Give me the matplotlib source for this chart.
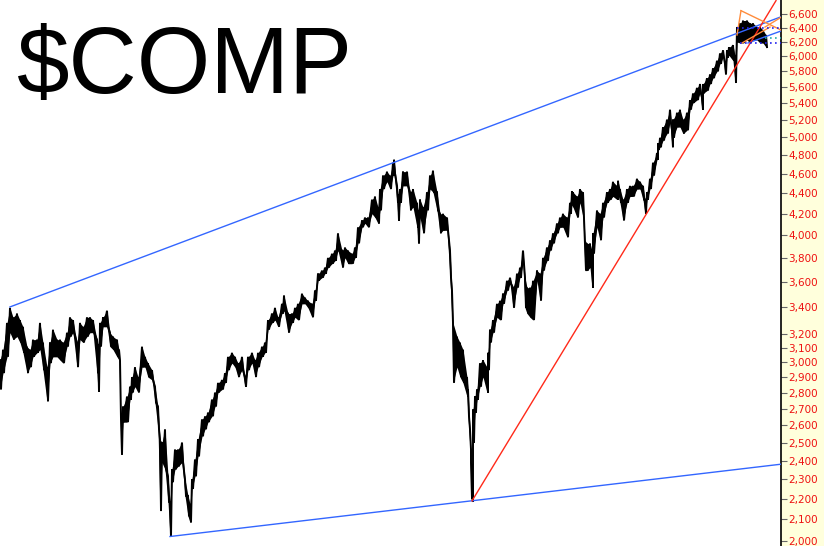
import numpy as np
import matplotlib
matplotlib.use("Agg")
import matplotlib.pyplot as plt
from matplotlib.ticker import FixedLocator, NullLocator, FuncFormatter

# ---- price data (week index, bar highs, bar lows) ----
weeks = [0, 3, 7, 10, 13, 17, 20, 23, 27, 30,
         33, 37, 40, 43, 47, 50, 53, 57, 60, 63,
         67, 70, 73, 77, 80, 83, 87, 90, 93, 97,
         98, 100, 103, 107, 110, 113, 117, 119, 121, 123,
         127, 130, 132, 135, 138, 142, 145, 148, 152, 155,
         158, 160, 162, 165, 168, 170, 172, 175, 178, 182,
         185, 188, 190, 192, 195, 198, 202, 205, 208, 212,
         215, 218, 222, 225, 228, 232, 235, 238, 242, 245,
         248, 252, 255, 258, 262, 265, 268, 272, 275, 278,
         282, 284, 288, 292, 295, 298, 302, 305, 308, 312,
         315, 318, 322, 325, 328, 332, 335, 338, 342, 345,
         348, 352, 355, 358, 362, 365, 368, 372, 375, 378,
         380, 383, 387, 390, 393, 394, 397, 398, 400, 403,
         407, 410, 413, 417, 418, 420, 423, 427, 430, 433,
         437, 440, 443, 447, 450, 452, 453, 457, 460, 463,
         467, 468, 470, 471, 472, 473, 475, 477, 480, 483,
         487, 488, 490, 493, 497, 500, 503, 507, 510, 513,
         517, 520, 523, 525, 527, 530, 533, 537, 540, 543,
         547, 550, 553, 557, 560, 563, 567, 570, 572, 573,
         577, 580, 583, 585, 587, 590, 592, 593, 597, 600,
         603, 607, 610, 613, 617, 618, 620, 623, 627, 630,
         633, 637, 640, 643, 645, 647, 650, 653, 657, 658,
         660, 663, 667, 670, 672, 673, 677, 680, 683, 687,
         690, 693, 697, 700, 702, 703, 707, 710, 713, 717,
         720, 723, 725, 727, 729, 733, 735, 737, 740, 743,
         747, 750, 753, 757, 760, 763, 766]

highs = [3014, 3086, 3279, 3393, 3321, 3350, 3300, 3250, 3107, 3086,
         3157, 3157, 3279, 3136, 2966, 3136, 3229, 3157, 3157, 3136,
         3207, 3321, 3300, 3136, 3279, 3250, 3321, 3321, 3300, 3157,
         3121, 3279, 3321, 3371, 3207, 3179, 3157, 3086, 2635, 2712,
         2775, 2837, 2900, 2966, 2900, 3107, 3036, 2993, 2946, 2837,
         2712, 2518, 2500, 2576, 2316, 2185, 2352, 2461, 2461, 2500,
         2300, 2215, 2175, 2300, 2406, 2518, 2635, 2653, 2676, 2756,
         2800, 2862, 2881, 2926, 3036, 3064, 3036, 2993, 3036, 2900,
         3036, 3064, 3014, 3064, 3107, 3136, 3300, 3350, 3393, 3321,
         3424, 3488, 3350, 3350, 3393, 3424, 3504, 3472, 3448, 3424,
         3528, 3667, 3692, 3717, 3800, 3836, 3864, 4018, 3864, 3891,
         3864, 3836, 3891, 4073, 4136, 4164, 4164, 4337, 4368, 4263,
         4442, 4579, 4621, 4579, 4716, 4747, 4474, 4389, 4442, 4621,
         4621, 4411, 4442, 4305, 4232, 4337, 4263, 4411, 4579, 4632,
         4411, 4200, 4200, 4164, 3864, 3528, 3279, 3179, 3136, 3086,
         2900, 2819, 2576, 2389, 2300, 2694, 2775, 2819, 2993, 3014,
         2966, 3064, 3229, 3300, 3424, 3448, 3504, 3608, 3633, 3552,
         3667, 3717, 3864, 3633, 3552, 3552, 3608, 3692, 3667, 3800,
         3891, 3955, 4018, 4109, 4164, 4200, 4164, 4305, 4421, 4411,
         4368, 4442, 4411, 3955, 3927, 3927, 3864, 4018, 4232, 4200,
         4305, 4411, 4442, 4516, 4474, 4526, 4442, 4337, 4442, 4474,
         4474, 4547, 4516, 4474, 4337, 4411, 4547, 4716, 4821, 4926,
         4989, 5112, 5200, 5318, 5075, 5200, 5282, 5318, 5200, 5282,
         5435, 5518, 5588, 5637, 5471, 5637, 5712, 5762, 5843, 5943,
         6043, 6086, 5900, 6086, 6129, 6157, 6014, 6415, 6470, 6510,
         6510, 6470, 6470, 6415, 6415, 6371, 6300]

lows = [2819, 2926, 3036, 3207, 3157, 3179, 3136, 3064, 2926, 2966,
        3036, 3064, 3086, 2946, 2744, 2993, 3036, 3036, 3014, 2993,
        3107, 3179, 3207, 2966, 3157, 3136, 3179, 3207, 3207, 2926,
        2806, 3107, 3250, 3250, 3107, 3086, 3036, 3014, 2433, 2618,
        2618, 2756, 2800, 2837, 2800, 2966, 2966, 2900, 2881, 2737,
        2576, 2140, 2389, 2352, 2185, 2019, 2285, 2352, 2368, 2389,
        2215, 2115, 2086, 2250, 2316, 2422, 2535, 2576, 2618, 2653,
        2712, 2800, 2819, 2862, 2946, 2993, 2966, 2900, 2946, 2837,
        2946, 2993, 2900, 2966, 3036, 3064, 3229, 3279, 3300, 3250,
        3350, 3371, 3207, 3279, 3321, 3300, 3424, 3424, 3393, 3321,
        3448, 3608, 3633, 3667, 3717, 3750, 3775, 3864, 3717, 3800,
        3750, 3750, 3800, 3927, 4073, 4109, 4073, 4200, 4164, 4109,
        4232, 4442, 4516, 4442, 4579, 4600, 4305, 4136, 4305, 4474,
        4474, 4232, 4263, 4073, 3927, 4164, 4018, 4232, 4442, 4411,
        4232, 4018, 4045, 4045, 3633, 3279, 2862, 2966, 2900, 2862,
        2775, 2653, 2461, 2200, 2185, 2500, 2676, 2756, 2837, 2900,
        2800, 2946, 3136, 3207, 3321, 3300, 3424, 3528, 3583, 3393,
        3552, 3633, 3750, 3393, 3350, 3321, 3300, 3608, 3448, 3692,
        3775, 3864, 3927, 4018, 4073, 4073, 3982, 4200, 4284, 4263,
        4164, 4305, 4164, 3692, 3692, 3717, 3552, 3836, 4073, 3955,
        4164, 4305, 4337, 4368, 4337, 4389, 4305, 4136, 4305, 4368,
        4368, 4442, 4442, 4337, 4200, 4337, 4442, 4579, 4747, 4853,
        4884, 4958, 5037, 5162, 4884, 4989, 5112, 5112, 5037, 5075,
        5318, 5400, 5435, 5518, 5318, 5518, 5553, 5637, 5712, 5800,
        5900, 5986, 5762, 5986, 6014, 5943, 5650, 6200, 6186, 6186,
        6229, 6186, 6229, 6229, 6186, 6186, 6129]

# ---- trend lines (week, value) ----
upper_blue_w, upper_blue_v = [10, 781], [3400, 6565]
lower_blue_w, lower_blue_v = [170, 781], [2020, 2380]
red_w, red_v = [472, 776], [2190, 6810]
channel_w, channel_v = [748, 781], [6186, 6357]
orange_lines = [([741, 781], [6657, 6371]),
                ([741, 737], [6657, 6300]),
                ([742, 770], [6186, 6414]),
                ([765, 781], [6414, 6557])]
dotted_blue = [(6400, 737, 781), (6186, 740, 781)]
dotted_teal = [(6257, 765, 781)]

tick_values = [2000, 2100, 2200, 2300, 2400, 2500, 2600, 2700, 2800, 2900,
               3000, 3100, 3200, 3400, 3600, 3800, 4000, 4200, 4400, 4600,
               4800, 5000, 5200, 5400, 5600, 5800, 6000, 6200, 6400, 6600]

W, H = 824, 546
fig = plt.figure(figsize=(W / 100, H / 100), dpi=100, facecolor="#FFFFDC")
ax = fig.add_axes([0, 0, 781 / W, 1])
ax.set_facecolor("white")

w = np.asarray(weeks, float)
hi = np.asarray(highs, float)
lo = np.asarray(lows, float)
assert len(w) == len(hi) == len(lo)
ax.fill_between(w, lo, hi, color="black", lw=0, zorder=3)
zx = np.column_stack([w, w + 1.0]).ravel()
zy = np.column_stack([hi, lo]).ravel()
ax.plot(zx, zy, color="black", lw=1.4, solid_joinstyle="miter", zorder=3)

blue = "#3366FF"
ax.plot(upper_blue_w, upper_blue_v, color=blue, lw=1.0, zorder=4)
ax.plot(lower_blue_w, lower_blue_v, color=blue, lw=1.0, zorder=4)
ax.plot(channel_w, channel_v, color=blue, lw=1.0, zorder=4)
ax.plot(red_w, red_v, color="#FF2A1A", lw=1.0, zorder=4)
for xs, vs in orange_lines:
    ax.plot(xs, vs, color="#FF8C3C", lw=1.0, zorder=4)
for v, x0, x1 in dotted_blue:
    ax.plot([x0, x1], [v, v], color="#2222EE", lw=1.2, ls=(0, (1, 2)), zorder=4)
for v, x0, x1 in dotted_teal:
    ax.plot([x0, x1], [v, v], color="#22AAAA", lw=1.2, ls=(0, (1, 2)), zorder=4)

ax.set_yscale("log")
ax.set_ylim(1977, 6820)
ax.set_xlim(0, 781)
ax.yaxis.set_major_locator(FixedLocator(tick_values))
ax.yaxis.set_minor_locator(NullLocator())
ax.yaxis.set_major_formatter(FuncFormatter(lambda v, p: f"{int(round(v)):,}"))
ax.yaxis.tick_right()
ax.tick_params(axis="y", which="major", direction="out", length=4, width=0.8,
               color="#666666", labelcolor="#EE1111", labelsize=7.5, pad=1.5)
ax.set_xticks([])
for s in ["left", "top", "bottom"]:
    ax.spines[s].set_visible(False)
ax.spines["right"].set_color("black")
ax.spines["right"].set_linewidth(1.2)

fig.text(17 / W, 1 - 93 / H, "$COMP", fontsize=68, family="Liberation Sans",
         color="black", va="baseline", ha="left", parse_math=False)

fig.savefig("out.png", dpi=100, facecolor=fig.get_facecolor())
